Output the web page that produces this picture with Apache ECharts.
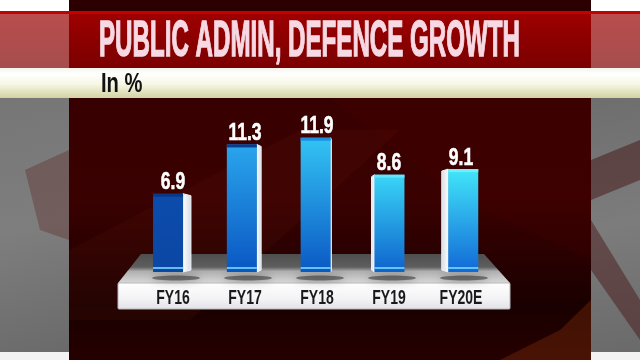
<!DOCTYPE html>
<html>
<head>
<meta charset="utf-8">
<script src="https://cdn.jsdelivr.net/npm/echarts@6/dist/echarts.min.js"></script>
<style>html,body{margin:0;padding:0;background:#300000;}#c{width:640px;height:360px;}</style>
</head>
<body>
<div id="c"></div>
<script>
// ---- data ----
const categories = ['FY16', 'FY17', 'FY18', 'FY19', 'FY20E'];
const growth = [6.9, 11.3, 11.9, 8.6, 9.1];
const titleText = 'PUBLIC ADMIN, DEFENCE GROWTH';
const unitText = 'In %';

// ---- styling ----
const barTop = ['#0d4cac', '#2aa6ec', '#33c4f4', '#3ad6f7', '#42e6fa'];
const barBottom = ['#0b47a4', '#0a56c2', '#0b58c4', '#0e62cc', '#1168d6'];
const capColor = ['#0a3886', '#0a3c92', '#1a8ee0', '#62e4fa', '#70eefc'];
const FONT = '"Liberation Sans", Arial, sans-serif';

const chart = echarts.init(document.getElementById('c'), null, {renderer: 'canvas'});

const mctx = document.createElement('canvas').getContext('2d');
mctx.font = 'bold 50px "Liberation Sans"';
const titleW = mctx.measureText(titleText).width;
const titleScale = 421 / titleW;

function lin(x, y, x2, y2, stops) {
  return {type: 'linear', x: x, y: y, x2: x2, y2: y2, colorStops: stops.map(s => ({offset: s[0], color: s[1]}))};
}

const graphics = [
  // central panel background
  {type: 'rect', z: 0, shape: {x: 69, y: 0, width: 522, height: 360},
   style: {fill: lin(0, 0, 0, 1, [[0, '#2c0000'], [0.3, '#380000'], [0.55, '#3a0101'], [0.85, '#1a0000'], [1, '#260000']])}},
  {type: 'polygon', z: 0, shape: {points: [[69, 320], [69, 250], [300, 130], [400, 130], [190, 320]]},
   style: {fill: 'rgba(130,40,20,0.10)'}},
  {type: 'polygon', z: 0, shape: {points: [[330, 98], [591, 98], [591, 260], [460, 200]]},
   style: {fill: 'rgba(90,0,0,0.15)'}},
  {type: 'polygon', z: 0, shape: {points: [[500, 360], [560, 330], [591, 300], [591, 360]]},
   style: {fill: 'rgba(200,80,20,0.22)'}},
  // side panels
  {type: 'rect', z: 0, shape: {x: 0, y: 0, width: 69, height: 14}, style: {fill: '#ffffff'}},
  {type: 'rect', z: 0, shape: {x: 591, y: 0, width: 49, height: 14}, style: {fill: '#ffffff'}},
  {type: 'rect', z: 0, shape: {x: 0, y: 98, width: 69, height: 254},
   style: {fill: lin(0, 0, 1, 1, [[0, '#767676'], [0.5, '#7e7e7e'], [1, '#6a6a6a']])}},
  {type: 'polygon', z: 0, shape: {points: [[25, 170], [69, 150], [69, 240], [40, 230]]}, style: {fill: 'rgba(90,20,20,0.3)'}},
  {type: 'rect', z: 0, shape: {x: 591, y: 98, width: 49, height: 254},
   style: {fill: lin(0, 0, 1, 1, [[0, '#6e6e6e'], [0.5, '#7c7c7c'], [1, '#6a6a6a']])}},
  {type: 'polygon', z: 0, shape: {points: [[591, 160], [640, 140], [640, 180], [591, 200]]}, style: {fill: 'rgba(70,20,20,0.5)'}},
  {type: 'polygon', z: 0, shape: {points: [[591, 220], [640, 300], [640, 340], [591, 270]]}, style: {fill: 'rgba(70,15,15,0.45)'}},
  {type: 'rect', z: 0, shape: {x: 0, y: 352, width: 69, height: 8}, style: {fill: '#f2f2f2'}},
  {type: 'rect', z: 0, shape: {x: 591, y: 352, width: 49, height: 8}, style: {fill: '#f2f2f2'}},
  // title bar
  {type: 'rect', z: 1, shape: {x: 0, y: 12, width: 640, height: 56},
   style: {fill: lin(0, 0, 0, 1, [[0, '#a00000'], [0.5, '#8c0000'], [1, '#7c0000']])}},
  {type: 'rect', z: 1, shape: {x: 0, y: 12, width: 69, height: 56}, style: {fill: 'rgba(220,170,170,0.45)'}},
  {type: 'rect', z: 1, shape: {x: 591, y: 12, width: 49, height: 56}, style: {fill: 'rgba(220,170,170,0.45)'}},
  {type: 'rect', z: 1, shape: {x: 0, y: 11, width: 640, height: 3}, style: {fill: '#c40000'}},
  // cream band
  {type: 'rect', z: 1, shape: {x: 0, y: 68, width: 640, height: 30},
   style: {fill: lin(0, 0, 0, 1, [[0, '#f4f4ec'], [0.2, '#ffffff'], [0.55, '#f6f6e2'], [1, '#d2d2a2']])}},
  {type: 'text', z: 5, x: 99, y: 42, scaleX: titleScale,
   style: {text: titleText, font: 'bold 50px "Liberation Sans"', verticalAlign: 'middle',
     fill: '#f7d9e3', stroke: '#f7d9e3', lineWidth: 1.4,
     shadowColor: 'rgba(60,0,0,0.6)', shadowBlur: 2, shadowOffsetY: 1}},
  {type: 'text', z: 5, x: 101, y: 84, scaleX: 0.72,
   style: {text: unitText, font: 'bold 28px ' + FONT, verticalAlign: 'middle', fill: '#111111'}},
  // platform
  {type: 'polygon', z: 1, shape: {points: [[141, 254], [484, 254], [510, 283], [118, 283]]},
   style: {fill: lin(0, 0, 0, 1, [[0, '#4e4e4e'], [0.45, '#5e5e5e'], [0.6, '#b0b0b0'], [1, '#d8d8d8']])}},
  {type: 'rect', z: 1, shape: {x: 118, y: 283, width: 392, height: 26, r: 1},
   style: {fill: lin(0, 0, 0, 1, [[0, '#ffffff'], [0.6, '#f3f3f6'], [1, '#e2e2e6']]), stroke: '#b8b8bc', lineWidth: 1}}
];

const option = {
  animation: false,
  backgroundColor: 'transparent',
  graphic: graphics,
  grid: {left: 136, right: 144, top: 47, bottom: 89},
  xAxis: {
    type: 'category', data: categories,
    axisLine: {show: false}, axisTick: {show: false},
    axisLabel: {show: false}
  },
  yAxis: {type: 'value', min: 0, max: 20, show: false, splitLine: {show: false}},
  series: [{
    type: 'custom',
    z: 10,
    data: growth.map((v, i) => [i, v]),
    renderItem: function (params, api) {
      const i = api.value(0);
      const v = api.value(1);
      const top = api.coord([i, v]);
      const base = api.coord([i, 0]);
      const cx = top[0];
      const s = (330 - cx) * 0.05;
      const fw = 30;
      const fc = cx - s / 2;
      const fx = fc - fw / 2;
      const h = base[1] - top[1];
      const children = [];
      children.push({type: 'ellipse', shape: {cx: cx + 4, cy: base[1] + 7, rx: 24, ry: 2.5},
        style: {fill: 'rgba(20,20,20,0.45)', shadowColor: 'rgba(0,0,0,0.9)', shadowBlur: 9}});
      let sidePts;
      if (s > 0) {
        sidePts = [[fx + fw, top[1]], [fx + fw + s, top[1] + 2], [fx + fw + s, base[1] - 1], [fx + fw, base[1] + 1]];
      } else {
        sidePts = [[fx, top[1]], [fx + s, top[1] + 2], [fx + s, base[1] - 1], [fx, base[1] + 1]];
      }
      children.push({type: 'polygon', shape: {points: sidePts},
        style: {fill: lin(0, 0, 1, 0, s > 0 ? [[0, '#ffffff'], [1, '#d4dae4']] : [[0, '#d4dae4'], [1, '#ffffff']]),
          stroke: '#eef2f8', lineWidth: 1}});
      children.push({type: 'rect', shape: {x: fx, y: top[1], width: fw, height: h + 1},
        style: {fill: lin(0, 0, 0, 1, [[0, barTop[i]], [1, barBottom[i]]])}});
      children.push({type: 'rect', shape: {x: fx, y: top[1], width: fw, height: 3},
        style: {fill: capColor[i]}});
      children.push({type: 'rect', shape: {x: fx, y: base[1] - 4, width: fw, height: 2},
        style: {fill: 'rgba(120,220,255,0.8)'}});
      children.push({type: 'text', x: cx + 1, y: top[1] + 1, scaleX: 0.73,
        style: {text: v.toFixed(1), font: 'bold 24px ' + FONT, fill: '#ffffff', align: 'center', verticalAlign: 'bottom',
          stroke: '#ffffff', lineWidth: 0.6,
          shadowColor: 'rgba(0,0,0,0.9)', shadowBlur: 3, shadowOffsetY: 1}});
      children.push({type: 'text', x: cx + 1, y: base[1] + 27, scaleX: 0.7,
        style: {text: categories[i], font: 'bold 20px ' + FONT, fill: '#1a1a1a', align: 'center', verticalAlign: 'middle'}});
      return {type: 'group', children: children};
    }
  }]
};
chart.setOption(option);
</script>
</body>
</html>
